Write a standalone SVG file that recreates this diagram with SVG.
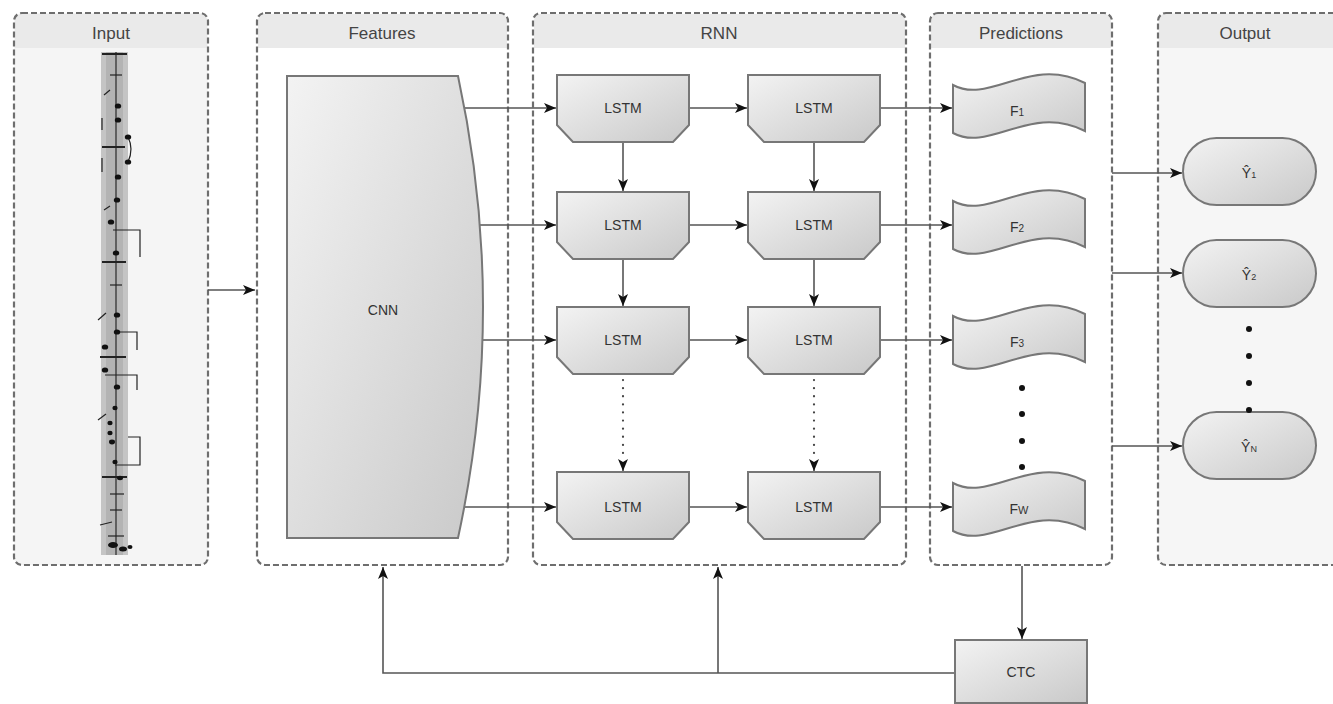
<svg xmlns="http://www.w3.org/2000/svg" width="1333" height="704" viewBox="0 0 1333 704">
<defs>
<style>
.cont{stroke:#6e6e6e;stroke-width:2.2;stroke-dasharray:6 3;}
.hdr{fill:#eaeaea;}
.htx{font-family:"Liberation Sans",Arial,sans-serif;font-size:17px;fill:#444;text-anchor:middle;}
.nd{fill:url(#g);stroke:#777;stroke-width:2;}
.tx{font-family:"Liberation Sans",Arial,sans-serif;font-size:14px;fill:#333;text-anchor:middle;}
.ln{fill:none;stroke:#555;stroke-width:1.6;}
.dot{fill:none;stroke:#444;stroke-width:2.2;stroke-dasharray:0.1 8;stroke-linecap:round;}
.staff{stroke:#222;fill:none;stroke-width:1.2;}
.note{fill:#111;}
</style>
<linearGradient id="g" x1="0" y1="0" x2="1" y2="1">
<stop offset="0" stop-color="#f3f3f3"/>
<stop offset="1" stop-color="#c9c9c9"/>
</linearGradient>
<marker id="ah" markerWidth="13" markerHeight="11" refX="12" refY="5" orient="auto" markerUnits="userSpaceOnUse">
<path d="M0,0 L12,5 L0,10 L3,5 z" fill="#111"/>
</marker>
<path id="lstm" d="M0,0 H132 V50 L116,67 H16 L0,50 Z"/>
<path id="tape" d="M0,0 C37,20 77,-30 132,-2 V46 C77,18 37,68 0,48 Z"/>
</defs>
<rect width="1333" height="704" fill="#ffffff"/>

<!-- containers -->
<g id="input">
<rect x="14" y="13" width="194" height="552" rx="8" fill="#f5f5f5"/>
<path class="hdr" d="M15,48 V21 Q15,14 22,14 H200 Q207,14 207,21 V48 Z"/>
<rect class="cont" x="14" y="13" width="194" height="552" rx="8" fill="none"/>
<text class="htx" x="111" y="39">Input</text>
<g id="staff">
<rect x="101" y="52" width="27" height="503" fill="#c4c4c4"/>
<rect x="106" y="52" width="17" height="503" fill="#b3b3b3"/>
<line x1="116" y1="52" x2="116" y2="555" stroke="#333" stroke-width="1.3"/>
<g class="staff">
<line x1="102" y1="54" x2="127" y2="54" stroke-width="2"/>
<line x1="110" y1="75" x2="122" y2="75"/>
<line x1="102" y1="147" x2="125" y2="147" stroke-width="2"/>
<line x1="102" y1="262" x2="126" y2="262" stroke-width="2"/>
<line x1="110" y1="285" x2="122" y2="285"/>
<line x1="100" y1="357" x2="126" y2="357" stroke-width="2"/>
<line x1="102" y1="477" x2="127" y2="477" stroke-width="2"/>
<path d="M128,137 Q134,149 128,162"/>
<path d="M113,230 H140 V257"/>
<path d="M117,332 H137 V350"/>
<path d="M105,375 H137 V390"/>
<path d="M128,437 H140 V465 H115"/>
<path d="M104,95 L110,90"/>
<path d="M102,118 V130"/>
<path d="M102,158 V172"/>
<path d="M104,210 L110,206"/>
<path d="M98,320 L106,313"/>
<path d="M98,420 L106,414"/>
<path d="M100,525 L112,522"/>
<path d="M110,494 H124"/>
<path d="M110,510 H122"/>
<path d="M108,536 H124"/>
</g>
<g class="note">
<ellipse cx="118" cy="106" rx="3.2" ry="2.6"/>
<ellipse cx="118" cy="120" rx="3.2" ry="2.6"/>
<ellipse cx="128" cy="137" rx="3.2" ry="2.6"/>
<ellipse cx="128" cy="162" rx="3.2" ry="2.6"/>
<ellipse cx="118" cy="177" rx="3.2" ry="2.6"/>
<ellipse cx="117" cy="200" rx="3.2" ry="2.6"/>
<ellipse cx="111" cy="222" rx="3.2" ry="2.6"/>
<ellipse cx="116" cy="253" rx="3.2" ry="2.6"/>
<ellipse cx="117" cy="315" rx="3.2" ry="2.6"/>
<ellipse cx="117" cy="332" rx="3.2" ry="2.6"/>
<ellipse cx="105" cy="347" rx="3.2" ry="2.6"/>
<ellipse cx="105" cy="370" rx="3.2" ry="2.6"/>
<ellipse cx="117" cy="387" rx="3.2" ry="2.6"/>
<ellipse cx="115" cy="408" rx="2.6" ry="2.2"/>
<ellipse cx="110" cy="423" rx="2.6" ry="2.2"/>
<ellipse cx="110" cy="433" rx="2.6" ry="2.2"/>
<ellipse cx="112" cy="442" rx="3" ry="2.4"/>
<ellipse cx="115" cy="462" rx="2.6" ry="2.2"/>
<ellipse cx="120" cy="478" rx="3" ry="2.2"/>
<ellipse cx="113" cy="545" rx="5" ry="3"/>
<ellipse cx="123" cy="549" rx="4" ry="2.5"/>
<ellipse cx="130" cy="547" rx="2.5" ry="2"/>
</g>
</g>
</g>

<g id="features">
<rect x="257" y="13" width="251" height="552" rx="8" fill="#ffffff"/>
<path class="hdr" d="M258,48 V21 Q258,14 265,14 H500 Q507,14 507,21 V48 Z"/>
<rect class="cont" x="257" y="13" width="251" height="552" rx="8" fill="none"/>
<text class="htx" x="382" y="39">Features</text>
</g>

<g id="rnn">
<rect x="533" y="13" width="373" height="552" rx="8" fill="#ffffff"/>
<path class="hdr" d="M534,48 V21 Q534,14 541,14 H898 Q905,14 905,21 V48 Z"/>
<rect class="cont" x="533" y="13" width="373" height="552" rx="8" fill="none"/>
<text class="htx" x="719" y="39">RNN</text>
</g>

<g id="predictions">
<rect x="930" y="13" width="182" height="552" rx="8" fill="#ffffff"/>
<path class="hdr" d="M931,48 V21 Q931,14 938,14 H1104 Q1111,14 1111,21 V48 Z"/>
<rect class="cont" x="930" y="13" width="182" height="552" rx="8" fill="none" stroke-width="1.6"/>
<text class="htx" x="1021" y="39">Predictions</text>
</g>

<g id="output">
<rect x="1158" y="13" width="190" height="552" rx="8" fill="#f6f6f6"/>
<path class="hdr" d="M1159,48 V21 Q1159,14 1166,14 H1340 V48 Z"/>
<rect class="cont" x="1158" y="13" width="190" height="552" rx="8" fill="none"/>
<text class="htx" x="1245" y="39">Output</text>
</g>

<!-- connectors -->
<g id="connectors">
<line class="ln" x1="208" y1="290" x2="255" y2="290" marker-end="url(#ah)"/>
<line class="ln" x1="464" y1="108" x2="556" y2="108" marker-end="url(#ah)"/>
<line class="ln" x1="479" y1="225" x2="556" y2="225" marker-end="url(#ah)"/>
<line class="ln" x1="483" y1="340" x2="556" y2="340" marker-end="url(#ah)"/>
<line class="ln" x1="464" y1="507" x2="556" y2="507" marker-end="url(#ah)"/>
<line class="ln" x1="689" y1="108" x2="747" y2="108" marker-end="url(#ah)"/>
<line class="ln" x1="689" y1="225" x2="747" y2="225" marker-end="url(#ah)"/>
<line class="ln" x1="689" y1="340" x2="747" y2="340" marker-end="url(#ah)"/>
<line class="ln" x1="689" y1="507" x2="747" y2="507" marker-end="url(#ah)"/>
<line class="ln" x1="880" y1="108" x2="952" y2="108" marker-end="url(#ah)"/>
<line class="ln" x1="880" y1="225" x2="952" y2="225" marker-end="url(#ah)"/>
<line class="ln" x1="880" y1="340" x2="952" y2="340" marker-end="url(#ah)"/>
<line class="ln" x1="880" y1="507" x2="952" y2="507" marker-end="url(#ah)"/>
<line class="ln" x1="623" y1="142" x2="623" y2="191" marker-end="url(#ah)"/>
<line class="ln" x1="814" y1="142" x2="814" y2="191" marker-end="url(#ah)"/>
<line class="ln" x1="623" y1="259" x2="623" y2="306" marker-end="url(#ah)"/>
<line class="ln" x1="814" y1="259" x2="814" y2="306" marker-end="url(#ah)"/>
<line class="dot" x1="623" y1="380" x2="623" y2="460"/>
<line class="ln" x1="623" y1="462" x2="623" y2="471" marker-end="url(#ah)"/>
<line class="dot" x1="814" y1="380" x2="814" y2="460"/>
<line class="ln" x1="814" y1="462" x2="814" y2="471" marker-end="url(#ah)"/>
<line class="ln" x1="1112" y1="173" x2="1182" y2="173" marker-end="url(#ah)"/>
<line class="ln" x1="1112" y1="273" x2="1182" y2="273" marker-end="url(#ah)"/>
<line class="ln" x1="1112" y1="446" x2="1182" y2="446" marker-end="url(#ah)"/>
<line class="ln" x1="1022" y1="566" x2="1022" y2="639" marker-end="url(#ah)"/>
<polyline class="ln" points="955,673 383,673 383,567" marker-end="url(#ah)"/>
<line class="ln" x1="718" y1="673" x2="718" y2="567" marker-end="url(#ah)"/>
</g>

<!-- nodes -->
<g id="cnn">
<path class="nd" d="M287,76 H458 Q508,307 458,538 H287 Z"/>
<text class="tx" x="383" y="315">CNN</text>
</g>

<g id="lstm-1-1"><use href="#lstm" class="nd" x="557" y="75"/><text class="tx" x="623" y="113">LSTM</text></g>
<g id="lstm-1-2"><use href="#lstm" class="nd" x="748" y="75"/><text class="tx" x="814" y="113">LSTM</text></g>
<g id="lstm-2-1"><use href="#lstm" class="nd" x="557" y="192"/><text class="tx" x="623" y="230">LSTM</text></g>
<g id="lstm-2-2"><use href="#lstm" class="nd" x="748" y="192"/><text class="tx" x="814" y="230">LSTM</text></g>
<g id="lstm-3-1"><use href="#lstm" class="nd" x="557" y="307"/><text class="tx" x="623" y="345">LSTM</text></g>
<g id="lstm-3-2"><use href="#lstm" class="nd" x="748" y="307"/><text class="tx" x="814" y="345">LSTM</text></g>
<g id="lstm-4-1"><use href="#lstm" class="nd" x="557" y="472"/><text class="tx" x="623" y="512">LSTM</text></g>
<g id="lstm-4-2"><use href="#lstm" class="nd" x="748" y="472"/><text class="tx" x="814" y="512">LSTM</text></g>

<g id="f1"><use href="#tape" class="nd" x="953" y="85"/><text class="tx" x="1017" y="116" font-size="15">F<tspan font-size="10">1</tspan></text></g>
<g id="f2"><use href="#tape" class="nd" x="953" y="201"/><text class="tx" x="1017" y="232" font-size="15">F<tspan font-size="10">2</tspan></text></g>
<g id="f3"><use href="#tape" class="nd" x="953" y="316"/><text class="tx" x="1017" y="347" font-size="15">F<tspan font-size="10">3</tspan></text></g>
<g id="fw"><use href="#tape" class="nd" x="953" y="483"/><text class="tx" x="1019" y="514" font-size="15" fill="#555">F<tspan font-size="11">W</tspan></text></g>
<g id="f-dots" fill="#111">
<circle cx="1022" cy="388" r="3"/><circle cx="1022" cy="414" r="3"/><circle cx="1022" cy="441" r="3"/><circle cx="1022" cy="467" r="3"/>
</g>

<g id="y1"><rect class="nd" x="1183" y="138" width="133" height="67" rx="33.5"/><text class="tx" x="1249" y="178" font-size="15">Ŷ<tspan font-size="9">1</tspan></text></g>
<g id="y2"><rect class="nd" x="1183" y="240" width="133" height="67" rx="33.5"/><text class="tx" x="1249" y="280" font-size="15">Ŷ<tspan font-size="9">2</tspan></text></g>
<g id="yn"><rect class="nd" x="1183" y="412" width="133" height="67" rx="33.5"/><text class="tx" x="1249" y="452" font-size="15">Ŷ<tspan font-size="9">N</tspan></text></g>
<g id="y-dots" fill="#111">
<circle cx="1249" cy="329" r="3"/><circle cx="1249" cy="356" r="3"/><circle cx="1249" cy="383" r="3"/><circle cx="1249" cy="410" r="3"/>
</g>

<g id="ctc"><rect class="nd" x="955" y="640" width="132" height="63"/><text class="tx" x="1021" y="677">CTC</text></g>
</svg>
